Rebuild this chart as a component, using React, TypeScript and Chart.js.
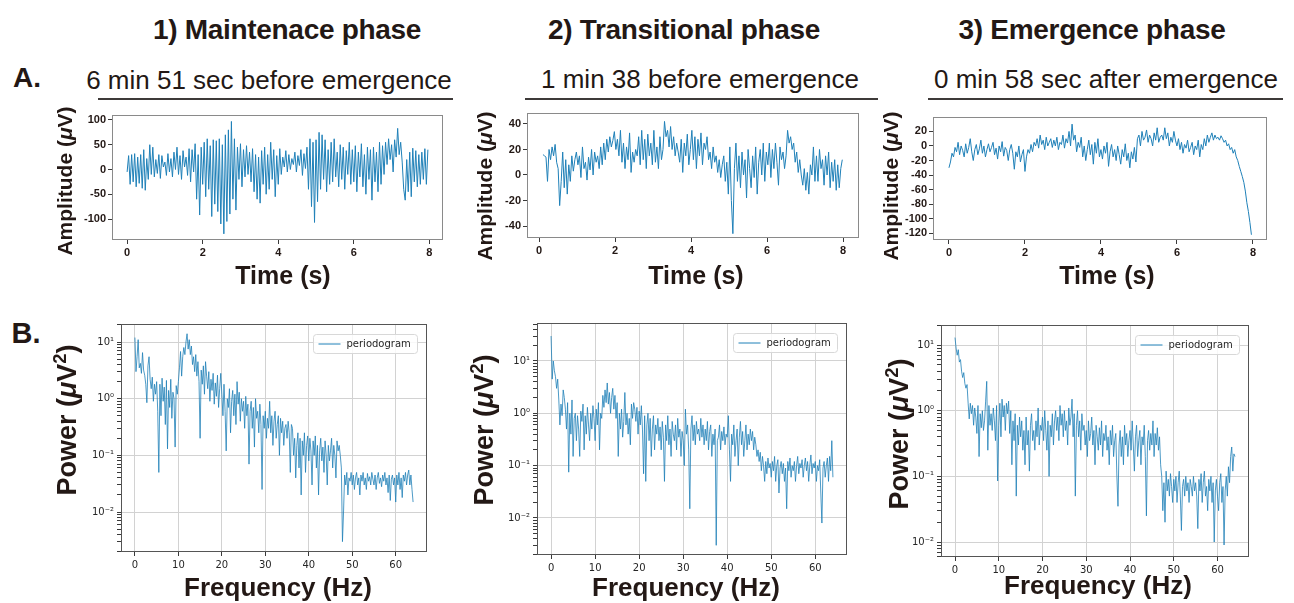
import React, { useEffect, useRef } from "react";
import { Chart, registerables } from "chart.js";

Chart.register(...registerables);

// ---------------- data ----------------
const SAMPLE_STEP = 0.04; // s between plotted samples
const FREQ_STEP = 0.25; // Hz between periodogram bins
const A1_START = 0;
const A2_START = 0.1;
const A3_START = 0;
const F_START = 0;

const phaseTitles = ["1) Maintenace phase", "2) Transitional phase", "3) Emergence phase"];
const subTitles = ["6 min 51 sec before emergence", "1 min 38 before emergence", "0 min 58 sec after emergence"];
const rowLabels = ["A.", "B."];
const seriesLabel = "periodogram";
const timeAxisTitle = "Time (s)";
const ampAxisTitleParts = ["Amplitude (", "\u03bc", "V", "", ")"];
const freqAxisTitle = "Frequency (Hz)";
const powerAxisTitleParts = ["Power (", "\u03bc", "V", "2", ")"];

const timeTicks = [0, 2, 4, 6, 8];
const a1YTicks = [-100, -50, 0, 50, 100];
const a2YTicks = [-40, -20, 0, 20, 40];
const a3YTicks = [-120, -100, -80, -60, -40, -20, 0, 20];
const freqTicks = [0, 10, 20, 30, 40, 50, 60];
const powerMajorTicks = [0.01, 0.1, 1, 10];
const powerTickLabels = ["10\u207b\u00b2", "10\u207b\u00b9", "10\u2070", "10\u00b9"];

// A1: maintenance phase EEG (uV)
const a1Values = [
  -5, 28, -30, 30, -25, 32, -35, 25, -28, 30,
  -38, 40, -42, 22, -20, 50, -10, 45, -15, 20,
  -8, 30, -18, 28, 5, 15, -12, 32, -5, 22,
  -15, 35, 0, 45, -10, 28, -20, 38, 5, 25,
  -12, 42, -25, 40, -5, 52, -60, 30, -92, 45,
  -30, 55, -55, 62, -40, 48, -95, 60, -70, 58,
  -85, 62, -110, 50, -130, 70, -105, 80, -90, 97,
  -60, 62, -82, 45, -20, 52, -35, 40, -15, 48,
  -10, 35, -25, 42, -45, 30, -60, 25, -68, 38,
  -30, 45, -50, 30, -40, 55, -20, 40, -55, 28,
  -30, 42, -10, 25, 5, 38, -5, 30, 0, 22,
  10, 35, -5, 28, 8, 40, -12, 32, 2, 45,
  -40, 62, -75, 55, -107, 60, -65, 75, -40, 70,
  -20, 60, -45, 40, -30, 55, -25, 62, -15, 35,
  -35, 50, -20, 45, -40, 38, -10, 55, -30, 40,
  -25, 48, -45, 35, -15, 52, -35, 30, -50, 45,
  -20, 40, -62, 45, -25, 35, -45, 55, -30, 48,
  -10, 55, 10, 62, 20, 50, -5, 60, 25, 83,
  30, 55, 15, -40, -62, 20, -45, 35, -55, 43,
  -25, 38, -35, 30, -30, 35, -20, 42, -30, 40,
];

// A2: transitional phase EEG (uV), starts at 0.1 s
const a2Values = [
  16, 15, 14, -5, 20, 12, 22, 15, 24, 10,
  5, -24, -5, 18, -10, 12, -15, 8, -5, 15,
  3, 12, 18, 8, 15, -2, 22, 5, 10, -4,
  14, 4, 20, 0, 18, 10, 15, 5, 22, 8,
  25, 12, 28, 18, 30, 22, 27, 34, 20, 28,
  15, 35, 10, 25, 5, 22, 12, 33, 2, 18,
  10, 20, 15, 30, 8, 35, 12, 28, 5, 32,
  15, 25, 8, 35, 10, 22, 5, 30, 12, 20,
  42, 30, 35, 22, 38, 20, 30, 15, 25, 18,
  10, 28, 2, 25, 15, 32, 8, 20, 35, 12,
  30, 5, 28, 15, 33, 8, 25, 20, 30, 12,
  18, 5, 22, 10, 15, 2, 12, -2, 8, 15,
  -5, 10, -15, 22, -20, -46, 5, 25, -5, 15,
  -10, 18, 0, 12, -18, 20, 5, -10, 15, -2,
  22, -15, 10, 20, 0, 25, -5, 18, 8, 25,
  -2, 20, 5, 25, 10, -8, 22, 12, 18, 5,
  15, 35, 25, 30, 20, 25, 10, 18, 2, 12,
  0, -8, 5, -12, 2, -15, 8, 0, 22, -5,
  15, -5, 20, 5, 12, -8, 15, 0, 18, -10,
  10, -5, 12, -12, 8, -10, 5, 12,
];

// A3: emergence phase EEG (uV)
const a3Values = [
  -30, -22, -10, -15, -2, -8, 5, -12, 0, -6,
  -15, 3, -10, -2, 10, -8, -20, -5, 2, -12,
  -4, 8, -10, 0, -15, -5, 3, -8, -2, 5,
  -12, -3, -18, 0, -8, 6, -14, -2, -6, -20,
  -5, 2, -10, -32, -8, -15, 0, -22, -12, -5,
  -35, -15, -5, -10, 2, -8, 5, 0, 10, -3,
  15, 2, 8, -5, 12, 0, 5, 10, -2, 8,
  0, 12, -5, 5, 2, 15, -3, 10, 4, 20,
  0, 30, 8, 15, -8, 5, -2, 12, -15, 0,
  -20, -5, 8, -12, 2, -25, 5, -10, 10, -15,
  -5, -18, 0, -10, 5, -28, -8, 2, -15, -5,
  -20, 0, -12, -25, -5, -15, 3, -20, -10, -30,
  -8, -18, -2, -22, 10, 15, 0, 20, 8, 12,
  22, 5, 15, 10, 0, 18, 8, 25, 5, 12,
  15, 8, 25, 10, 18, 0, 12, 5, 20, 8,
  0, 10, -5, 5, -10, 2, -3, 8, -8, -2,
  5, -12, 0, -5, 8, -15, 2, -5, 10, 0,
  15, 5, 12, 18, 8, 15, 10, 12, 8, 14,
  10, 5, 8, 0, 3, -5, -2, -10, -5, -15,
  -20, -28, -35, -42, -50, -62, -78, -90, -105, -122,
];

// B1: periodogram, maintenance phase (uV^2), 0..64 Hz
const b1Values = [
  12, 3.0, 5.5, 11, 3.5, 4.2, 2.8, 6.5, 3.2, 2.6, 1.8, 0.85, 3.8, 5.5, 2.2, 1.5, 2.4, 0.9, 1.8, 1.2,
  2.0, 0.6, 0.05, 1.8, 0.5, 2.3, 0.9, 1.6, 0.35, 2.1, 0.13, 1.4, 0.7, 2.2, 0.45, 1.3, 1.0, 0.14, 1.7, 1.2,
  2.0, 3.5, 6.8, 2.5, 5.5, 8.0, 6.0, 10, 14, 7.5, 11, 6.0, 8.5, 4.0, 5.5, 3.0, 6.0, 2.5, 4.5, 2.0,
  0.2, 3.2, 1.8, 3.8, 1.2, 4.5, 2.5, 1.5, 3.0, 0.9, 2.2, 1.4, 2.8, 0.8, 1.9, 1.1, 2.6, 0.7, 1.5, 2.8,
  1.2, 0.5, 1.8, 0.6, 0.12, 1.0, 0.7, 1.5, 0.25, 0.9, 1.4, 0.5, 1.2, 0.35, 2.0, 0.8, 1.3, 0.4, 1.0, 0.6,
  0.9, 0.3, 1.1, 0.5, 0.8, 0.07, 0.6, 0.9, 0.3, 0.7, 0.14, 1.0, 0.45, 0.6, 0.25, 0.8, 0.35, 0.025, 0.5, 0.3,
  0.6, 0.2, 0.45, 0.3, 0.9, 0.25, 0.5, 0.15, 0.4, 0.6, 0.2, 0.35, 0.5, 0.1, 0.45, 0.25, 0.4, 0.15, 0.3, 0.35,
  0.2, 0.4, 0.25, 0.05, 0.35, 0.3, 0.1, 0.2, 0.04, 0.15, 0.25, 0.06, 0.2, 0.02, 0.18, 0.1, 0.25, 0.05, 0.15, 0.22,
  0.08, 0.2, 0.12, 0.03, 0.18, 0.1, 0.22, 0.06, 0.15, 0.02, 0.12, 0.2, 0.08, 0.14, 0.05, 0.18, 0.1, 0.03, 0.15, 0.08,
  0.12, 0.2, 0.06, 0.15, 0.1, 0.04, 0.18, 0.12, 0.15, 0.1, 0.06, 0.003, 0.01, 0.045, 0.03, 0.05, 0.02, 0.04, 0.035, 0.05,
  0.03, 0.045, 0.025, 0.04, 0.05, 0.03, 0.04, 0.02, 0.045, 0.035, 0.05, 0.03, 0.04, 0.025, 0.048, 0.035, 0.042, 0.03, 0.05, 0.038,
  0.03, 0.045, 0.025, 0.04, 0.05, 0.032, 0.04, 0.028, 0.045, 0.035, 0.05, 0.03, 0.04, 0.022, 0.045, 0.016, 0.038, 0.045, 0.03, 0.04,
  0.015, 0.045, 0.03, 0.05, 0.025, 0.04, 0.018, 0.045, 0.035, 0.05, 0.03, 0.045, 0.055, 0.03, 0.045, 0.025, 0.015,
];

// B2: periodogram, transitional phase
const b2Values = [
  30, 4.5, 10, 6.5, 5.0, 3.0, 4.5, 1.8, 0.6, 1.5, 0.9, 2.8, 2.0, 1.2, 0.5, 1.6, 0.075, 1.0, 0.4, 1.8,
  0.15, 0.8, 1.0, 0.3, 0.9, 0.5, 0.15, 1.1, 0.7, 1.5, 0.2, 0.9, 0.4, 1.3, 0.6, 0.3, 1.0, 0.5, 1.4, 0.8,
  0.3, 1.2, 0.6, 1.6, 0.2, 1.0, 0.8, 2.2, 1.3, 2.8, 1.6, 3.8, 1.5, 2.5, 1.0, 2.0, 3.0, 1.2, 2.2, 0.8,
  1.6, 0.15, 1.0, 0.5, 1.2, 0.35, 0.7, 2.5, 0.6, 1.0, 0.4, 0.8, 0.25, 1.5, 0.8, 1.6, 1.2, 0.7, 1.3, 0.4,
  1.1, 0.6, 1.4, 0.5, 0.07, 0.9, 0.05, 0.6, 1.0, 0.3, 0.8, 0.15, 0.5, 0.9, 0.2, 0.6, 0.4, 0.8, 0.3, 0.55,
  0.2, 0.7, 0.35, 0.05, 0.6, 0.3, 0.9, 0.25, 0.5, 0.15, 0.7, 0.4, 0.3, 0.6, 0.2, 0.8, 0.35, 0.5, 0.15, 0.45,
  0.3, 0.1, 1.2, 0.4, 0.6, 0.2, 0.015, 0.5, 0.9, 0.3, 0.6, 0.25, 0.7, 0.4, 0.5, 0.3, 0.8, 0.35, 0.6, 0.25,
  0.5, 0.3, 0.7, 0.2, 0.45, 0.6, 0.15, 0.4, 0.25, 0.5, 0.003, 0.3, 0.35, 0.6, 0.2, 0.45, 0.3, 0.55, 0.25, 0.4,
  0.35, 0.9, 0.2, 0.05, 0.4, 0.25, 0.6, 0.15, 0.3, 0.5, 0.1, 0.35, 0.7, 0.25, 0.45, 0.15, 0.3, 0.6, 0.2, 0.4,
  0.25, 0.5, 0.3, 0.45, 0.2, 0.35, 0.25, 0.15, 0.2, 0.12, 0.18, 0.08, 0.15, 0.1, 0.05, 0.12, 0.07, 0.14, 0.09, 0.11,
  0.06, 0.12, 0.08, 0.15, 0.05, 0.1, 0.13, 0.03, 0.09, 0.12, 0.07, 0.11, 0.05, 0.09, 0.015, 0.12, 0.08, 0.14, 0.06, 0.1,
  0.08, 0.12, 0.05, 0.1, 0.15, 0.07, 0.11, 0.09, 0.13, 0.06, 0.1, 0.14, 0.08, 0.12, 0.05, 0.1, 0.16, 0.07, 0.11, 0.09,
  0.12, 0.05, 0.1, 0.08, 0.13, 0.03, 0.008, 0.09, 0.12, 0.06, 0.1, 0.14, 0.05, 0.15, 0.08, 0.3, 0.06,
];

// B3: periodogram, emergence phase
const b3Values = [
  13, 9.0, 7.0, 8.5, 5.5, 6.0, 4.0, 3.2, 3.8, 2.6, 2.2, 2.5, 1.3, 0.75, 1.3, 0.9, 1.2, 0.6, 1.1, 0.8,
  0.45, 1.2, 0.2, 0.9, 0.55, 1.0, 0.5, 0.7, 1.4, 2.8, 0.25, 1.2, 0.6, 0.9, 0.5, 1.1, 0.7, 0.35, 1.2, 0.085,
  0.6, 1.3, 0.4, 1.5, 0.8, 1.2, 0.5, 1.3, 0.9, 1.4, 0.45, 1.0, 0.15, 0.7, 0.35, 0.9, 0.05, 0.6, 0.3, 0.8,
  0.4, 0.7, 0.25, 0.5, 0.15, 0.8, 0.3, 0.5, 0.12, 0.6, 0.9, 0.35, 0.5, 0.25, 0.7, 0.4, 1.1, 0.3, 0.6, 0.5,
  0.8, 0.35, 1.0, 0.5, 0.25, 0.7, 0.1, 0.6, 0.4, 0.9, 0.3, 0.7, 1.0, 0.5, 0.8, 0.35, 1.2, 0.6, 0.9, 0.4,
  1.0, 0.5, 0.7, 0.3, 1.1, 0.6, 0.8, 1.5, 0.4, 0.9, 0.05, 0.6, 1.0, 0.4, 0.7, 0.25, 0.9, 0.5, 0.6, 0.3,
  0.5, 0.2, 0.7, 0.35, 0.45, 0.8, 0.3, 0.5, 0.15, 0.6, 0.4, 0.25, 0.55, 0.3, 0.7, 0.2, 0.45, 0.35, 0.6, 0.25,
  0.4, 0.15, 0.5, 0.3, 0.6, 0.2, 0.35, 0.45, 0.1, 0.035, 0.3, 0.5, 0.2, 0.4, 0.15, 0.6, 0.3, 0.45, 0.2, 0.35,
  0.5, 0.25, 0.7, 0.3, 0.12, 0.4, 0.6, 0.2, 0.35, 0.5, 0.15, 0.4, 0.3, 0.6, 0.2, 0.025, 0.35, 0.5, 0.25, 0.45,
  0.3, 0.7, 0.2, 0.45, 0.3, 0.55, 0.25, 0.4, 0.15, 0.1, 0.03, 0.08, 0.02, 0.12, 0.06, 0.09, 0.05, 0.11, 0.07, 0.04,
  0.09, 0.06, 0.1, 0.04, 0.08, 0.12, 0.05, 0.015, 0.07, 0.09, 0.05, 0.1, 0.06, 0.08, 0.04, 0.09, 0.07, 0.05, 0.1, 0.06,
  0.08, 0.05, 0.016, 0.09, 0.06, 0.11, 0.04, 0.08, 0.12, 0.05, 0.07, 0.03, 0.09, 0.06, 0.1, 0.04, 0.08, 0.01, 0.06, 0.09,
  0.05, 0.03, 0.08, 0.11, 0.04, 0.07, 0.009, 0.06, 0.1, 0.05, 0.14, 0.08, 0.2, 0.28, 0.12, 0.22, 0.2,
];

// ---------------- styling ----------------
const LINE_COLOR = "#1f80b8";
const TEXT_COLOR = "#231815";
const GRID_COLOR = "#d2d2d2";
const TICK_COLOR = "#3a3a3a";
const BOLD_FAMILY = "'Liberation Sans', Arial, Helvetica, sans-serif";
const MPL_FAMILY = "'DejaVu Sans', sans-serif";

type Box = { left: number; top: number; right: number; bottom: number };
type Spec = {
  frame: Box;
  values: number[];
  x0: number;
  dx: number;
  xMin: number;
  xMax: number;
  yMin: number;
  yMax: number;
  xTicks: number[];
  yTicks: number[];
  log: boolean;
  yAxisW: number;
  xAxisH: number;
  frameColor: string;
  lineWidth: number;
};

const isPow10 = (v: number) => {
  const l = Math.log10(v);
  return Math.abs(l - Math.round(l)) < 1e-6;
};

function logTickValues(min: number, max: number) {
  const out: number[] = [];
  for (let k = -4; k <= 2; k++) {
    for (let m = 1; m <= 9; m++) {
      const v = m * Math.pow(10, k);
      if (v >= min && v <= max) out.push(v);
    }
  }
  return out;
}

const framePlugin = (color: string) => ({
  id: "frameBox",
  afterDatasetsDraw(chart: any) {
    const { ctx, chartArea } = chart;
    ctx.save();
    ctx.strokeStyle = color;
    ctx.lineWidth = 1;
    ctx.strokeRect(
      Math.round(chartArea.left) + 0.5,
      Math.round(chartArea.top) + 0.5,
      Math.round(chartArea.right - chartArea.left) - 1,
      Math.round(chartArea.bottom - chartArea.top) - 1
    );
    ctx.restore();
  },
});

const insideLegendPlugin = {
  id: "insideLegend",
  afterDraw(chart: any) {
    const label = chart.data.datasets[0].label as string;
    const { ctx, chartArea } = chart;
    ctx.save();
    ctx.font = `10px ${MPL_FAMILY}`;
    const tw = ctx.measureText(label).width;
    const w = Math.round(tw + 40);
    const h = 19;
    const x = Math.round(chartArea.right - 10 - w) + 0.5;
    const y = Math.round(chartArea.top + 10) + 0.5;
    ctx.beginPath();
    ctx.roundRect(x, y, w, h, 3);
    ctx.fillStyle = "rgba(255,255,255,0.85)";
    ctx.fill();
    ctx.strokeStyle = "#d8d8d8";
    ctx.lineWidth = 1;
    ctx.stroke();
    ctx.beginPath();
    ctx.moveTo(x + 5, Math.round(y + h / 2));
    ctx.lineTo(x + 27, Math.round(y + h / 2));
    ctx.strokeStyle = LINE_COLOR;
    ctx.lineWidth = 1;
    ctx.stroke();
    ctx.fillStyle = "#262626";
    ctx.textBaseline = "middle";
    ctx.textAlign = "left";
    ctx.fillText(label, x + 33, y + h / 2 + 0.5);
    ctx.restore();
  },
};

function canvasBox(s: Spec) {
  const left = s.frame.left - s.yAxisW;
  const top = s.frame.top - 12;
  const right = s.frame.right + 12;
  const bottom = s.frame.bottom + s.xAxisH;
  return { left, top, width: right - left, height: bottom - top };
}

function makeConfig(s: Spec): any {
  const cb = canvasBox(s);
  const pts = s.values.map((v, i) => ({ x: s.x0 + i * s.dx, y: v }));
  const tickFont = s.log
    ? { family: MPL_FAMILY, size: 10 }
    : { family: BOLD_FAMILY, size: 11, weight: "bold" };
  const tickTextColor = s.log ? "#262626" : TEXT_COLOR;
  const yTickList = s.log ? logTickValues(s.yMin, s.yMax) : s.yTicks;
  const plugins: any[] = [framePlugin(s.frameColor)];
  if (s.log) plugins.push(insideLegendPlugin);
  return {
    type: "line",
    data: {
      datasets: [
        {
          label: seriesLabel,
          data: pts,
          borderColor: LINE_COLOR,
          borderWidth: s.lineWidth,
          pointRadius: 0,
          fill: false,
          tension: 0,
        },
      ],
    },
    options: {
      animation: false,
      responsive: false,
      maintainAspectRatio: false,
      events: [],
      layout: {
        padding: {
          top: s.frame.top - cb.top,
          right: cb.left + cb.width - s.frame.right,
          left: 0,
          bottom: 0,
        },
      },
      plugins: { legend: { display: false }, tooltip: { enabled: false }, title: { display: false } },
      scales: {
        x: {
          type: "linear",
          min: s.xMin,
          max: s.xMax,
          afterBuildTicks: (sc: any) => {
            sc.ticks = s.xTicks.map((v) => ({ value: v }));
          },
          afterFit: (sc: any) => {
            sc.height = s.xAxisH;
          },
          border: { display: false },
          grid: {
            display: true,
            drawOnChartArea: s.log,
            drawTicks: true,
            tickLength: 4,
            color: GRID_COLOR,
            tickColor: TICK_COLOR,
            lineWidth: 1,
          },
          ticks: {
            autoSkip: false,
            maxRotation: 0,
            minRotation: 0,
            padding: s.log ? 3 : 2,
            font: tickFont,
            color: tickTextColor,
            callback: (v: number) => String(v),
          },
        },
        y: {
          type: s.log ? "logarithmic" : "linear",
          min: s.yMin,
          max: s.yMax,
          afterBuildTicks: (sc: any) => {
            sc.ticks = yTickList.map((v) => ({ value: v, major: s.log ? isPow10(v) : true }));
          },
          afterFit: (sc: any) => {
            sc.width = s.yAxisW;
          },
          border: { display: false },
          grid: {
            display: true,
            drawOnChartArea: s.log,
            drawTicks: true,
            tickLength: 4,
            color: (ctx: any) =>
              !s.log || (ctx.tick && isPow10(ctx.tick.value)) ? GRID_COLOR : "rgba(0,0,0,0)",
            tickColor: TICK_COLOR,
            lineWidth: 1,
          },
          ticks: {
            autoSkip: false,
            padding: s.log ? 3 : 2,
            font: tickFont,
            color: tickTextColor,
            callback: (v: number) => {
              if (!s.log) return String(v);
              const idx = powerMajorTicks.findIndex((p) => Math.abs(p - v) / p < 1e-6);
              return idx >= 0 ? powerTickLabels[idx] : "";
            },
          },
        },
      },
    },
    plugins,
  };
}

function Panel({ spec }: { spec: Spec }) {
  const ref = useRef<HTMLCanvasElement | null>(null);
  const cb = canvasBox(spec);
  useEffect(() => {
    if (!ref.current) return;
    const chart = new Chart(ref.current, makeConfig(spec));
    return () => chart.destroy();
  }, []);
  return (
    <canvas
      ref={ref}
      width={cb.width}
      height={cb.height}
      style={{ position: "absolute", left: cb.left, top: cb.top, width: cb.width, height: cb.height }}
    />
  );
}

const timeSpecs: Spec[] = [
  {
    frame: { left: 112, top: 115, right: 443, bottom: 240 },
    values: a1Values, x0: A1_START, dx: SAMPLE_STEP,
    xMin: -0.4, xMax: 8.36, yMin: -142.4, yMax: 110,
    xTicks: timeTicks, yTicks: a1YTicks, log: false, yAxisW: 50, xAxisH: 24,
    frameColor: "#8a8a8a", lineWidth: 1,
  },
  {
    frame: { left: 527, top: 113, right: 859, bottom: 238 },
    values: a2Values, x0: A2_START, dx: SAMPLE_STEP,
    xMin: -0.32, xMax: 8.42, yMin: -49.4, yMax: 48.6,
    xTicks: timeTicks, yTicks: a2YTicks, log: false, yAxisW: 50, xAxisH: 24,
    frameColor: "#8a8a8a", lineWidth: 1,
  },
  {
    frame: { left: 933, top: 117, right: 1267, bottom: 240 },
    values: a3Values, x0: A3_START, dx: SAMPLE_STEP,
    xMin: -0.42, xMax: 8.37, yMin: -129.2, yMax: 39.8,
    xTicks: timeTicks, yTicks: a3YTicks, log: false, yAxisW: 50, xAxisH: 24,
    frameColor: "#8a8a8a", lineWidth: 1,
  },
];

const psdSpecs: Spec[] = [
  {
    frame: { left: 121, top: 324, right: 427, bottom: 552 },
    values: b1Values, x0: F_START, dx: FREQ_STEP,
    xMin: -3.2, xMax: 67.2, yMin: 0.00197, yMax: 20.8,
    xTicks: freqTicks, yTicks: powerMajorTicks, log: true, yAxisW: 50, xAxisH: 24,
    frameColor: "#555555", lineWidth: 0.8,
  },
  {
    frame: { left: 537, top: 323, right: 847, bottom: 555 },
    values: b2Values, x0: F_START, dx: FREQ_STEP,
    xMin: -3.2, xMax: 67.2, yMin: 0.00196, yMax: 53.2,
    xTicks: freqTicks, yTicks: powerMajorTicks, log: true, yAxisW: 50, xAxisH: 24,
    frameColor: "#555555", lineWidth: 0.8,
  },
  {
    frame: { left: 941, top: 325, right: 1249, bottom: 557 },
    values: b3Values, x0: F_START, dx: FREQ_STEP,
    xMin: -3.2, xMax: 67.2, yMin: 0.00591, yMax: 20.2,
    xTicks: freqTicks, yTicks: powerMajorTicks, log: true, yAxisW: 50, xAxisH: 24,
    frameColor: "#555555", lineWidth: 0.8,
  },
];

// text placement (centers)
const phaseTitlePos = [
  { x: 287, y: 30 },
  { x: 684, y: 30 },
  { x: 1092, y: 30 },
];
const subTitlePos = [
  { x: 269, y: 80 },
  { x: 700, y: 79 },
  { x: 1106, y: 79 },
];
const underlines = [
  { x1: 98, x2: 453, y: 98 },
  { x1: 525, x2: 878, y: 98 },
  { x1: 928, x2: 1283, y: 98 },
];
const timeTitlePos = [
  { x: 283, y: 275 },
  { x: 696, y: 275 },
  { x: 1107, y: 275 },
];
const ampTitlePos = [
  { x: 64, y: 181 },
  { x: 484, y: 186 },
  { x: 890, y: 186 },
];
const freqTitlePos = [
  { x: 278, y: 587 },
  { x: 686, y: 587 },
  { x: 1098, y: 585 },
];
const powerTitlePos = [
  { x: 67, y: 420 },
  { x: 484, y: 430 },
  { x: 899, y: 434 },
];

const labelStyle = (x: number, y: number, size: number, weight: number, rotate?: boolean, spacing?: number): React.CSSProperties => ({
  position: "absolute",
  left: x,
  top: y,
  transform: `translate(-50%, -50%)${rotate ? " rotate(-90deg)" : ""}`,
  fontFamily: BOLD_FAMILY,
  fontSize: size,
  fontWeight: weight,
  color: TEXT_COLOR,
  whiteSpace: "nowrap",
  lineHeight: 1,
  letterSpacing: spacing ?? 0,
});

function Label({
  text, x, y, size, weight, rotate, spacing,
}: {
  text: string; x: number; y: number; size: number; weight: number; rotate?: boolean; spacing?: number;
}) {
  return <div style={labelStyle(x, y, size, weight, rotate, spacing)}>{text}</div>;
}

// axis title with italic mu and optional superscript
function UnitLabel({ parts, x, y, size }: { parts: string[]; x: number; y: number; size: number }) {
  const [pre, mu, unit, sup, post] = parts;
  return (
    <div style={labelStyle(x, y, size, 700, true)}>
      {pre}
      <i>{mu}</i>
      {unit}
      {sup ? <span style={{ fontSize: "0.68em", verticalAlign: "0.5em", lineHeight: 0 }}>{sup}</span> : null}
      {post}
    </div>
  );
}

export default function App() {
  return (
    <div
      style={{
        position: "absolute",
        left: 0,
        top: 0,
        width: 1294,
        height: 603,
        background: "#ffffff",
        overflow: "hidden",
      }}
    >
      {timeSpecs.map((s, i) => (
        <Panel key={"a" + i} spec={s} />
      ))}
      {psdSpecs.map((s, i) => (
        <Panel key={"b" + i} spec={s} />
      ))}
      {phaseTitles.map((t, i) => (
        <Label key={"pt" + i} text={t} x={phaseTitlePos[i].x} y={phaseTitlePos[i].y} size={28} weight={700} spacing={-0.3} />
      ))}
      {subTitles.map((t, i) => (
        <Label key={"st" + i} text={t} x={subTitlePos[i].x} y={subTitlePos[i].y} size={26} weight={400} />
      ))}
      {underlines.map((u, i) => (
        <div
          key={"ul" + i}
          style={{ position: "absolute", left: u.x1, top: u.y, width: u.x2 - u.x1, height: 2, background: "#3e3a39" }}
        />
      ))}
      <Label text={rowLabels[0]} x={27} y={78} size={28} weight={700} />
      <Label text={rowLabels[1]} x={26} y={333} size={29} weight={700} />
      {timeTitlePos.map((p, i) => (
        <Label key={"tt" + i} text={timeAxisTitle} x={p.x} y={p.y} size={25} weight={700} />
      ))}
      {ampTitlePos.map((p, i) => (
        <UnitLabel key={"at" + i} parts={ampAxisTitleParts} x={p.x} y={p.y} size={21} />
      ))}
      {freqTitlePos.map((p, i) => (
        <Label key={"ft" + i} text={freqAxisTitle} x={p.x} y={p.y} size={26} weight={700} />
      ))}
      {powerTitlePos.map((p, i) => (
        <UnitLabel key={"pw" + i} parts={powerAxisTitleParts} x={p.x} y={p.y} size={27} />
      ))}
    </div>
  );
}
